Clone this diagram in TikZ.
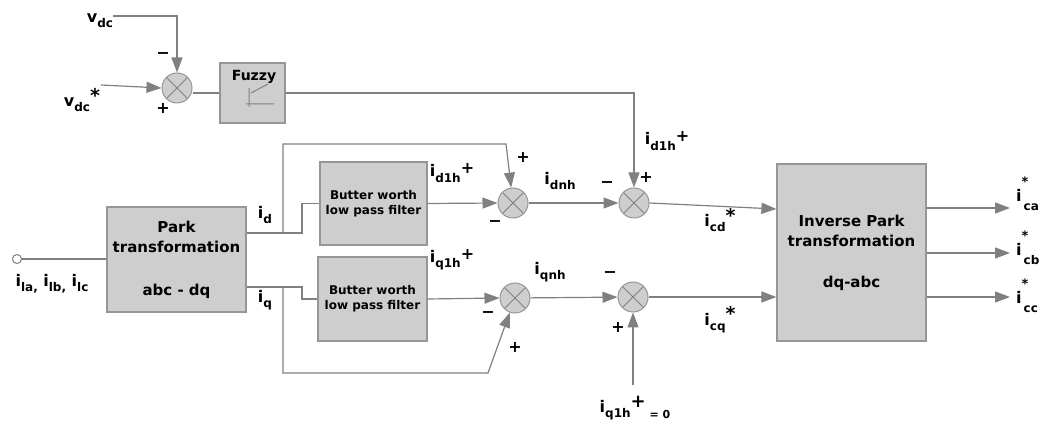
\documentclass[tikz,border=0pt]{standalone}
\usepackage{fontspec}
\setmainfont{DejaVu Sans}
\usetikzlibrary{arrows.meta}
\definecolor{ln}{RGB}{128,128,128}
\definecolor{bx}{RGB}{206,206,206}
\definecolor{bd}{RGB}{150,150,150}
\newcommand\sbs[1]{\raisebox{-0.32em}{\fontsize{12}{12}\selectfont #1}}
\newcommand\astr{\raisebox{0.3em}{\fontsize{19}{19}\selectfont *}}
\newcommand\ist[1]{i\rlap{\raisebox{0.95em}{\fontsize{13}{13}\selectfont *}}\raisebox{-0.55em}{\fontsize{12}{12}\selectfont\,#1}}
\begin{document}
\begin{tikzpicture}[x=1pt,y=-1pt,font=\bfseries\fontsize{16}{18}\selectfont,
 wire/.style={draw=ln,line width=1.2pt},
 arr/.style={wire,-{Triangle[length=15pt,width=11pt]}},
 blk/.style={draw=bd,fill=bx,line width=1.2pt,inner sep=0pt,align=center},
 sumc/.style={circle,draw=bd,fill=bx,line width=1pt,minimum size=30pt,inner sep=0pt,
   path picture={\draw[ln,line width=0.9pt] (path picture bounding box.north west)--(path picture bounding box.south east) (path picture bounding box.north east)--(path picture bounding box.south west);}},
 lab/.style={inner sep=0pt}]
\useasboundingbox (0,0) rectangle (1049,427);

% blocks
\node[blk,minimum width=139pt,minimum height=105pt,font=\bfseries\fontsize{15}{20}\selectfont] (park) at (176.5,259.5) {Park\\transformation\\[23pt]abc - dq};
\node[blk,minimum width=65pt,minimum height=60pt] (fuzzy) at (252.5,93) {};
\node[lab,font=\bfseries\fontsize{14}{16}\selectfont] (fuzzyt) at (254,77) {Fuzzy};
\draw[ln,line width=1pt] (249,88)--(249,107) (246,104)--(274,104) (251,93)--(268,84);
\node[blk,minimum width=107pt,minimum height=83pt,font=\bfseries\fontsize{12}{15}\selectfont] (bw1) at (373.5,203.5) {Butter worth\\low pass filter};
\node[blk,minimum width=109pt,minimum height=84pt,font=\bfseries\fontsize{12}{15}\selectfont] (bw2) at (372.5,299) {Butter worth\\low pass filter};
\node[blk,minimum width=149pt,minimum height=177pt,font=\bfseries\fontsize{15}{20}\selectfont] (inv) at (851.5,252.5) {Inverse Park\\transformation\\[21pt]dq-abc};

% summing junctions
\node[sumc] (s1) at (177,88) {};
\node[sumc] (s3) at (513,203) {};
\node[sumc] (s4) at (634,203) {};
\node[sumc] (s5) at (515,298) {};
\node[sumc] (s6) at (633,297) {};

% input
\node[circle,draw=ln,fill=white,line width=1pt,minimum size=9pt,inner sep=0pt] (in) at (17,259) {};
\draw[wire] (in.east) -- (park.west |- in.east);
\node[lab] (inl) at (52,284) {i\sbs{la,} i\sbs{lb,} i\sbs{lc}};

% dc loop
\node[lab] (vdc) at (100,21) {v\sbs{dc}};
\coordinate (vdce) at (113,16);
\draw[arr] (vdce) -| (s1.north);
\node[lab] (vdcs) at (82,100) {v\sbs{dc}\astr};
\coordinate (vdcse) at (101,85);
\draw[arr] (vdcse) -- (s1.west);
\node[lab] (m1) at (163,56) {−};
\node[lab] (p1) at (163,108) {+};
\draw[wire] (s1.east |- fuzzy.west) -- (fuzzy.west);
\draw[arr] (fuzzy.east) -| (s4.north);
\node[lab] (id1hb) at (667,141) {i\sbs{d1h}\raisebox{0.2em}{+}};

% d branch
\coordinate (jd) at (283,233); \coordinate (pd) at (302,233);
\coordinate (ju) at (283,144); \coordinate (jr) at (506,144);
\draw[wire] (park.east |- jd) -- (pd) |- (bw1.west);
\draw[arr] (jd) -- (ju) -- (jr) -- (s3);
\draw[arr] (bw1.east) -- (s3.west);
\draw[arr] (s3) -- (s4);
\coordinate (icd) at (777,209);
\draw[arr] (s4.east) -- (inv.west |- icd);
\node[lab] (idl) at (265,215) {i\sbs{d}};
\node[lab] (id1h) at (452,173) {i\sbs{d1h}\raisebox{0.2em}{+}};
\node[lab] (p3) at (523,157) {+};
\node[lab] (m3) at (495,224) {−};
\node[lab] (idnh) at (560,181) {i\sbs{dnh}};
\node[lab] (m4) at (607,185) {−};
\node[lab] (p4) at (646,177) {+};
\node[lab] (icdl) at (720,220) {i\sbs{cd}\astr};

% q branch
\coordinate (jq) at (283,287); \coordinate (pq) at (302,287);
\coordinate (jb) at (283,373); \coordinate (jbr) at (488,373);
\draw[wire] (park.east |- jq) -- (pq) |- (bw2.west);
\draw[arr] (jq) -- (jb) -- (jbr) -- (s5);
\draw[arr] (bw2.east) -- (s5.west);
\draw[arr] (s5) -- (s6);
\draw[arr] (s6.east) -- (inv.west |- s6.east);
\coordinate (qz) at (633,385);
\draw[arr] (qz) -- (s6.south);
\node[lab] (iql) at (265,300) {i\sbs{q}};
\node[lab] (iq1h) at (452,260) {i\sbs{q1h}\raisebox{0.2em}{+}};
\node[lab] (m5) at (488,315) {−};
\node[lab] (p5) at (515,347) {+};
\node[lab] (iqnh) at (550,272) {i\sbs{qnh}};
\node[lab] (m6) at (610,275) {−};
\node[lab] (p6) at (618,327) {+};
\node[lab] (icql) at (720,320) {i\sbs{cq}\astr};
\node[lab] (q0) at (635,408) {i\sbs{q1h}\raisebox{0.3em}{\fontsize{18}{18}\selectfont +}\raisebox{-0.4em}{\fontsize{11}{11}\selectfont\ = 0}};

% outputs
\coordinate (o1) at (1010,208); \coordinate (o2) at (1010,253); \coordinate (o3) at (1010,297);
\draw[arr] (inv.east |- o1) -- (o1);
\draw[arr] (inv.east |- o2) -- (o2);
\draw[arr] (inv.east |- o3) -- (o3);
\node[lab,anchor=base west] (oca) at (1016,202) {\ist{ca}};
\node[lab,anchor=base west] (ocb) at (1016,256) {\ist{cb}};
\node[lab,anchor=base west] (occ) at (1016,304) {\ist{cc}};
\end{tikzpicture}
\end{document}
